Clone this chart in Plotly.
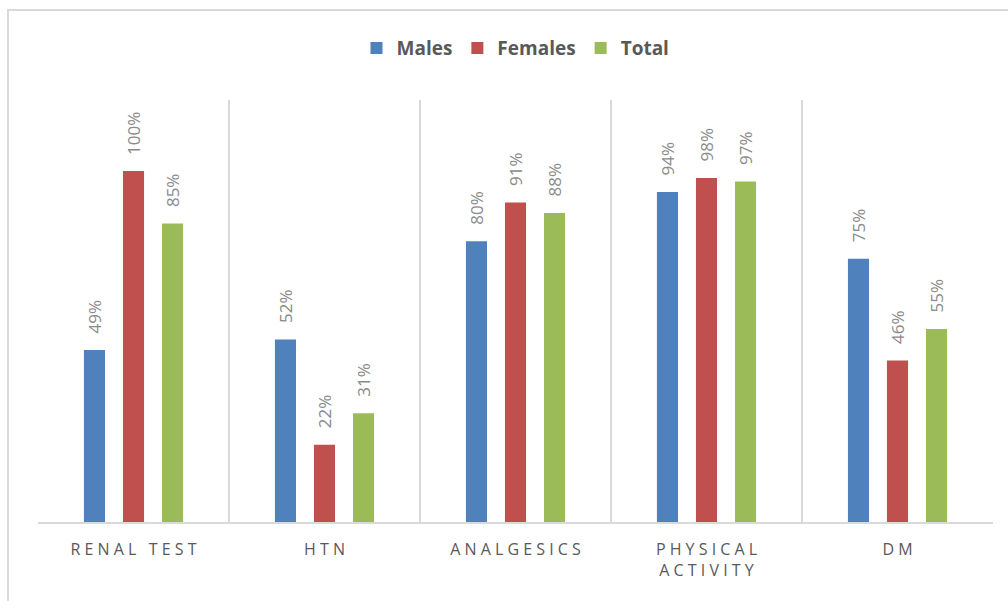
import plotly.graph_objects as go

categories = ["RENAL TEST", "HTN", "ANALGESICS", "PHYSICAL ACTIVITY", "DM"]
tick_text = ["R E N A L   T E S T", "H T N", "A N A L G E S I C S",
             "P H Y S I C A L<br>A C T I V I T Y", "D M"]
series_names = ["Males", "Females", "Total"]
males = [49, 52, 80, 94, 75]
females = [100, 22, 91, 98, 46]
total = [85, 31, 88, 97, 55]
colors = ["#4f81bd", "#c0504d", "#9bbb59"]

values = [males, females, total]

fig = go.Figure()
for name, vals, col in zip(series_names, values, colors):
    fig.add_trace(go.Bar(
        name=name, x=categories, y=[v / 100 for v in vals],
        marker=dict(color=col, line=dict(width=0)),
    ))

# Rotated value labels above each bar
offsets = [-39, 0, 39]
for vals, dx in zip(values, offsets):
    for cat, v in zip(categories, vals):
        fig.add_annotation(
            x=cat, y=v / 100, xref="x", yref="y",
            text=f"{v}%", textangle=-90, showarrow=False,
            xanchor="center", yanchor="bottom", xshift=dx, yshift=14,
            font=dict(family="Open Sans", size=17, color="#8a8a8a"),
        )

# Outer chart frame
fig.add_shape(type="rect", xref="paper", yref="paper",
              x0=-0.0314, x1=1.2, y0=-0.5, y1=1.2133,
              line=dict(color="#d9d9d9", width=2), layer="below")

fig.update_layout(
    width=1008, height=601,
    margin=dict(l=38, r=15, t=100, b=79, autoexpand=False),
    paper_bgcolor="white", plot_bgcolor="white",
    barmode="group", bargap=0.387, bargroupgap=0.46,
    showlegend=True,
    legend=dict(orientation="h", x=0.5, xanchor="center", y=1.123, yanchor="middle",
                bgcolor="rgba(0,0,0,0)",
                font=dict(family="Open Sans", size=19, color="#595959", weight="bold"),
                itemwidth=30, traceorder="normal"),
    xaxis=dict(
        tickmode="array", tickvals=categories, ticktext=tick_text,
        tickson="boundaries", showgrid=True, gridcolor="#d9d9d9", gridwidth=1.5,
        showline=True, linecolor="#d9d9d9", linewidth=2, ticks="",
        ticklabelstandoff=12,
        tickfont=dict(family="Open Sans", size=16, color="#595959"),
        range=[-0.5, 4.5],
    ),
    yaxis=dict(range=[0, 1.202], showgrid=False, showticklabels=False,
               zeroline=False, showline=False),
)

fig.write_html("out.html")
